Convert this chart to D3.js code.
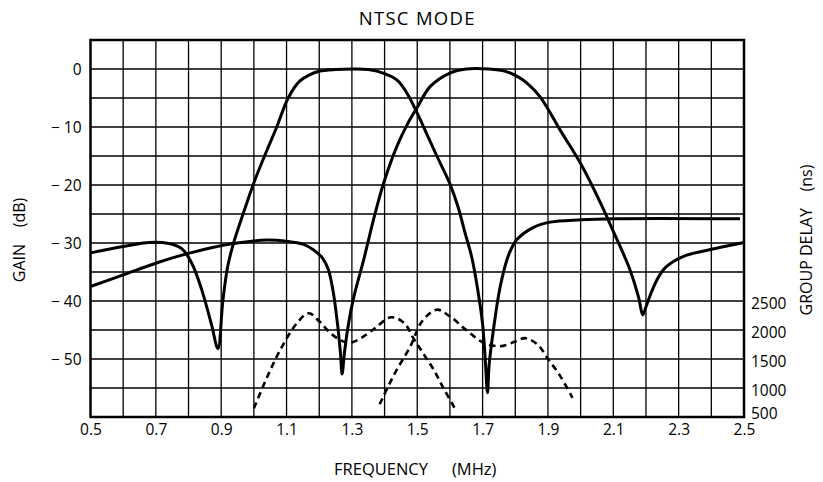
<!DOCTYPE html>
<html><head><meta charset="utf-8">
<script src="https://cdn.jsdelivr.net/npm/d3@7"></script>
<style>
body{margin:0;background:#fff;}
svg text{font-family:"Open Sans",sans-serif;fill:#000;}
</style></head>
<body><svg id="c" width="823" height="482"></svg>
<script>
// ---- data ----
const xTicks = [0.5,0.7,0.9,1.1,1.3,1.5,1.7,1.9,2.1,2.3,2.5];
const gainTicks = [0,-10,-20,-30,-40,-50];
const delayTicks = [2500,2000,1500,1000,500];

// Gain curve A (low band filter), [MHz, dB]
const gainA = [[0.5,-31.7],[0.6,-30.6],[0.68,-29.9],[0.74,-30.1],[0.78,-31.0],[0.81,-33.5],[0.84,-38],[0.87,-44],[0.89,-48.2],
 [0.905,-40],[0.92,-34],[0.94,-29.6],[0.97,-24.5],[1.0,-19.6],[1.04,-14],[1.07,-10],[1.105,-5],[1.14,-2.1],[1.17,-1.0],[1.2,-0.4],[1.25,-0.1],[1.3,0],[1.35,-0.1],[1.4,-0.8],[1.44,-2.0],[1.47,-4.3],
 [1.5,-7.6],[1.53,-11.3],[1.56,-15.0],[1.6,-19.8],[1.625,-23.8],[1.645,-28.0],[1.667,-32.5],[1.685,-38],[1.7,-44],[1.708,-50],[1.715,-55.8],
 [1.72,-51],[1.733,-45],[1.754,-37.5],[1.78,-32],[1.805,-29.4],[1.856,-27.3],[1.907,-26.4],[2.0,-26],[2.1,-25.8],[2.488,-25.8]];

// Gain curve B (high band filter), [MHz, dB]
const gainB = [[0.5,-37.5],[0.6,-35.5],[0.704,-33.4],[0.806,-31.7],[0.937,-30.1],[1.04,-29.5],[1.1,-29.7],[1.15,-30.2],[1.183,-31.2],[1.21,-32.6],[1.228,-34.6],
 [1.243,-38.5],[1.256,-44],[1.265,-49],[1.27,-52.6],
 [1.277,-49],[1.288,-44.5],[1.305,-39.5],[1.336,-32.9],[1.366,-26],[1.397,-19.7],[1.438,-13.3],[1.47,-9.5],[1.5,-6.6],[1.54,-3.0],[1.6,-0.7],[1.65,0],[1.72,0],[1.77,-0.4],[1.81,-1.4],[1.835,-2.4],[1.876,-4.8],
 [1.937,-10.5],[2.0,-16.3],[2.06,-23],[2.1,-28],[2.151,-34.6],[2.178,-39.5],[2.19,-42.4],
 [2.2,-41],[2.213,-39],[2.235,-36.2],[2.26,-34.2],[2.315,-32.3],[2.416,-30.9],[2.5,-29.9]];

// Group delay curve A, [MHz, ns]
const delayA = [[1.0,650],[1.04,1180],[1.081,1660],[1.132,2120],[1.168,2290],[1.2,2150],[1.24,1920],[1.285,1780],[1.315,1820],[1.366,2010],[1.42,2220],
 [1.46,2120],[1.489,1850],[1.52,1580],[1.55,1320],[1.58,1000],[1.615,650]];

// Group delay curve B, [MHz, ns]
const delayB = [[1.385,720],[1.43,1240],[1.479,1720],[1.515,2150],[1.56,2350],[1.601,2230],[1.65,2000],[1.703,1780],[1.754,1720],[1.8,1800],[1.83,1860],
 [1.87,1740],[1.9,1500],[1.935,1230],[1.975,830]];

// ---- layout ----
const svg = d3.select("#c");
const L=90.5, R=744, T=40, B=417;
const x = d3.scaleLinear().domain([0.5,2.5]).range([L,R]);
const y = d3.scaleLinear().domain([-60,5]).range([B,T]);
const yd = d3.scaleLinear().domain([500,2500]).range([B,y(-40)]);

// grid
const g = svg.append("g");
g.selectAll("line.v").data(d3.range(1,20).map(i=>0.5+i*0.1)).join("line")
  .attr("x1",d=>x(d)).attr("x2",d=>x(d)).attr("y1",T).attr("y2",B)
  .attr("stroke","#000").attr("stroke-width",1.3);
g.selectAll("line.h").data(d3.range(1,13).map(i=>5-i*5)).join("line")
  .attr("x1",L).attr("x2",R).attr("y1",d=>y(d)).attr("y2",d=>y(d))
  .attr("stroke","#000").attr("stroke-width",1.3);
g.append("rect").attr("x",L).attr("y",T).attr("width",R-L).attr("height",B-T)
  .attr("fill","none").attr("stroke","#000").attr("stroke-width",2.5);

// axes (labels only)
const fmtG = d => d===0 ? "0" : "\u2212 " + Math.abs(d);
const ax = d3.axisLeft(y).tickValues(gainTicks).tickFormat(fmtG).tickSize(0).tickPadding(9);
const gl = svg.append("g").attr("transform",`translate(${L},0)`).call(ax);
gl.select(".domain").remove();
gl.selectAll("text").style("font-size","15.5px").attr("dy","0.36em");

const axb = d3.axisBottom(x).tickValues(xTicks).tickFormat(d3.format(".1f")).tickSize(0).tickPadding(7);
const gb = svg.append("g").attr("transform",`translate(0,${B})`).call(axb);
gb.select(".domain").remove();
gb.selectAll("text").style("font-size","15.5px");

const axr = d3.axisRight(yd).tickValues(delayTicks).tickFormat(d3.format("d")).tickSize(0).tickPadding(7);
const gr = svg.append("g").attr("transform",`translate(${R},0)`).call(axr);
gr.select(".domain").remove();
gr.selectAll("text").style("font-size","15.5px").attr("dy",d=>d===500?"0.1em":"0.5em");

// curves
const line = d3.line().x(d=>x(d[0])).y(d=>y(d[1])).curve(d3.curveCatmullRom.alpha(0.5));
const dline = d3.line().x(d=>x(d[0])).y(d=>yd(d[1])).curve(d3.curveCatmullRom.alpha(0.5));
[gainA,gainB].forEach(s=>svg.append("path").attr("d",line(s)).attr("fill","none")
  .attr("stroke","#000").attr("stroke-width",3).attr("stroke-linejoin","round"));
[delayA,delayB].forEach(s=>svg.append("path").attr("d",dline(s)).attr("fill","none")
  .attr("stroke","#000").attr("stroke-width",2.6).attr("stroke-dasharray","6.5,4.5"));

// titles
svg.append("text").attr("x",(L+R)/2).attr("y",25).attr("text-anchor","middle")
  .style("font-size","18.5px").style("letter-spacing","1.3px").text("NTSC MODE");
svg.append("text").attr("x",428).attr("y",475).attr("text-anchor","end")
  .style("font-size","16.5px").text("FREQUENCY");
svg.append("text").attr("x",452).attr("y",475).attr("text-anchor","start")
  .style("font-size","16.5px").text("(MHz)");
svg.append("text").attr("transform","translate(25,240) rotate(-90)").attr("text-anchor","middle")
  .style("font-size","16px").attr("xml:space","preserve").text("GAIN    (dB)");
svg.append("text").attr("transform","translate(812,240) rotate(-90)").attr("text-anchor","middle")
  .style("font-size","16px").attr("xml:space","preserve").text("GROUP DELAY    (ns)");
</script></body></html>
